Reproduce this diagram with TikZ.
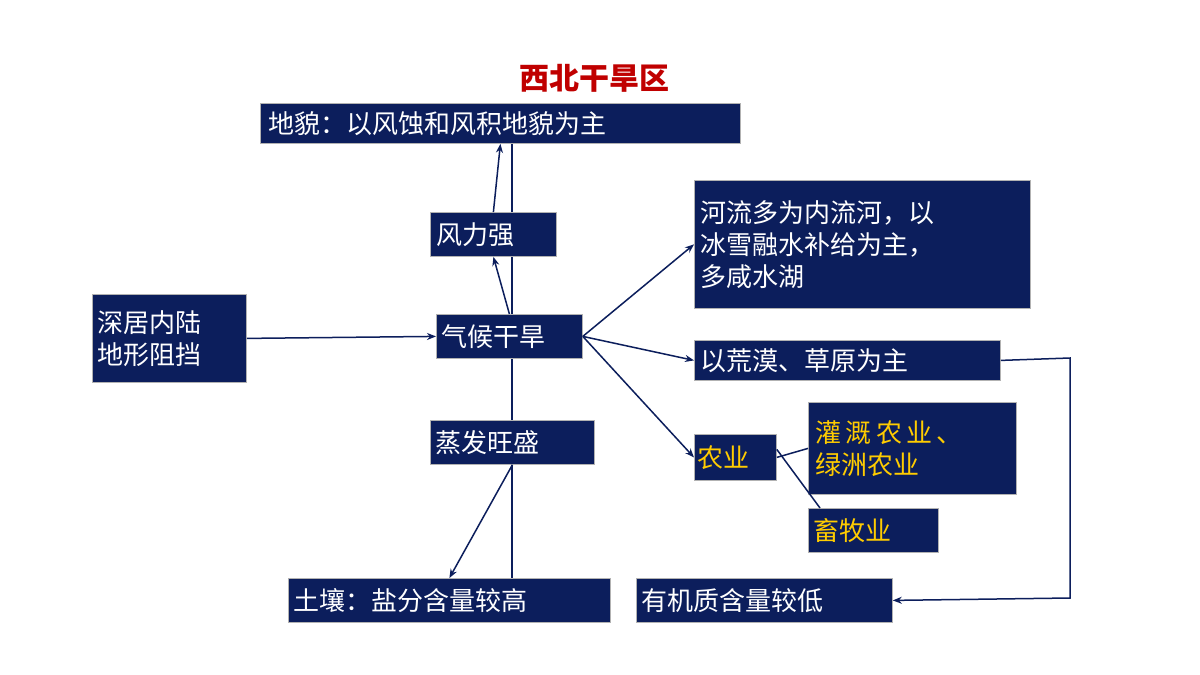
\documentclass[tikz,border=0pt]{standalone}
\usepackage{fontspec}
\setmainfont{Noto Sans CJK SC}
\usetikzlibrary{arrows.meta}
\definecolor{navy}{RGB}{12,30,92}
\definecolor{gold}{RGB}{255,204,0}
\definecolor{dred}{RGB}{192,0,0}
\begin{document}
\begin{tikzpicture}[x=1pt,y=-1pt,
 box/.style={draw=gray!60,line width=0.8pt,fill=navy,text=white,font=\fontsize{26}{32}\selectfont,anchor=north west,inner sep=0pt,align=left},
 ln/.style={draw=navy,line width=1.5pt},
 ar/.style={ln,-{Stealth[length=9pt,width=7pt]}}]
\path[use as bounding box] (0,0) rectangle (1200,675);
\fill[white] (0,0) rectangle (1200,675);
\node[text=dred,font=\fontsize{30}{36}\selectfont\bfseries] (t) at (594,78) {西北干旱区};
% vertical line behind
\coordinate (vtop) at (512,143);
\coordinate (vbot) at (512,578);
\draw[ln] (vtop) -- (vbot);
\node[box,minimum width=480,minimum height=40,text width=470] (dm) at (260,103) {\hspace{3pt}地貌：以风蚀和风积地貌为主};
\node[box,minimum width=126,minimum height=44,text width=120] (fl) at (430,212) {\hspace{3pt}风力强};
\node[box,minimum width=336,minimum height=128,text width=330] (hl) at (694,180) {\hspace{3pt}河流多为内流河，以\\\hspace{3pt}冰雪融水补给为主，\\\hspace{3pt}多咸水湖};
\node[box,minimum width=154,minimum height=88,text width=150] (sj) at (92,294) {\hspace{3pt}深居内陆\\\hspace{3pt}地形阻挡};
\node[box,minimum width=146,minimum height=44,text width=140] (qh) at (436,314) {\hspace{2pt}气候干旱};
\node[box,minimum width=306,minimum height=40,text width=300] (hm) at (694,340) {\hspace{3pt}以荒漠、草原为主};
\node[box,minimum width=164,minimum height=44,text width=160] (zf) at (430,420) {\hspace{3pt}蒸发旺盛};
\node[box,text=gold,minimum width=208,minimum height=92,text width=200] (gg) at (808,402) {\hspace{3pt}灌\,溉\,农\,业\,、\\\hspace{3pt}绿洲农业};
\node[box,text=gold,minimum width=82,minimum height=46,text width=80] (ny) at (694,434) {\hspace{2pt}农业};
\node[box,text=gold,minimum width=130,minimum height=44,text width=126] (xm) at (808,508) {\hspace{3pt}畜牧业};
\node[box,minimum width=322,minimum height=44,text width=318] (tr) at (288,578) {\hspace{3pt}土壤：盐分含量较高};
\node[box,minimum width=256,minimum height=44,text width=252] (yj) at (636,578) {\hspace{3pt}有机质含量较低};
% arrows
\draw[ar] (fl.north) -- (dm.south);
\draw[ar] (qh.north) -- (fl.south);
\draw[ar] (zf.south) -- (tr.north);
\draw[ar] (sj.east) -- (qh.west);
\draw[ar] (qh.east) -- (hl.west);
\draw[ar] (qh.east) -- (hm.west);
\draw[ar] (qh.east) -- (ny.west);
\draw[ln] (ny.east) -- (gg.west);
\draw[ln] ([yshift=8pt]ny.east) -- ([xshift=12pt]xm.north west);
\coordinate (c1) at (1070,358);
\coordinate (c2) at (1070,598);
\draw[ar] (hm.east) -- (c1) -- (c2) -- (yj.east);
\end{tikzpicture}
\end{document}
